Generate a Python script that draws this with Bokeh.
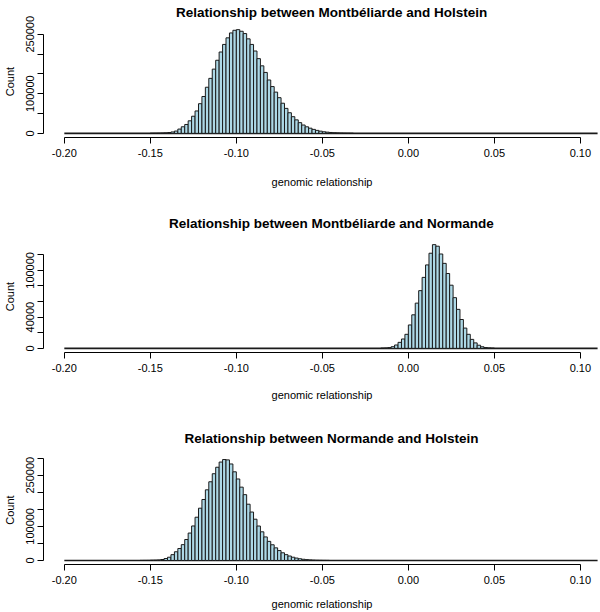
import numpy as np
from bokeh.plotting import figure
from bokeh.layouts import column
from bokeh.models import Range1d, FixedTicker, BasicTickFormatter, NumeralTickFormatter
from bokeh.embed import file_html
from bokeh.resources import INLINE

# ---------------- data ----------------
BIN_WIDTH = 0.002
BREAKS_RANGE = (-0.20, 0.11)          # full range of histogram breaks
X_LIMITS = (-0.2121, 0.1117)          # visible x range
X_TICKS = [-0.20, -0.15, -0.10, -0.05, 0.00, 0.05, 0.10]

titles = [
    "Relationship between Montbéliarde and Holstein",
    "Relationship between Montbéliarde and Normande",
    "Relationship between Normande and Holstein",
]
x_label = "genomic relationship"
y_label = "Count"

# Montbéliarde x Holstein: first bin starts at -0.150
mh_start = -0.150
mh_counts = [100, 200, 400, 700, 1200, 2000, 3500, 5800, 10800, 16600,
             22400, 31600, 43200, 56500, 74800, 93000, 116300, 138700, 162000, 184400,
             205200, 224300, 240900, 253300, 260000, 261600, 257500, 251700, 238400, 224300,
             207700, 188500, 170300, 153700, 134600, 118000, 104000, 90000, 76000, 63000,
             52000, 42000, 34000, 27000, 21000, 16500, 13000, 10000, 7500, 5500,
             4000, 3000, 2200, 1500, 1000, 600, 350, 200, 100]
mh_yticks = [0, 50000, 100000, 150000, 200000, 250000]
mh_ylabels = [0, 100000, 250000]

# Montbéliarde x Normande: first bin starts at -0.016
mn_start = -0.016
mn_counts = [200, 400, 900, 2100, 4300, 7700, 12000, 18000, 30000, 43000,
             58000, 74000, 91000, 107000, 122000, 133000, 131000, 121000, 109000, 96000,
             81000, 65000, 50000, 37000, 26000, 18000, 11500, 7000, 4000, 2000,
             1000, 500, 200]
mn_yticks = [0, 20000, 40000, 60000, 80000, 100000, 120000]
mn_ylabels = [0, 40000, 100000]

# Normande x Holstein: first bin starts at -0.156
nh_start = -0.156
nh_counts = [100, 200, 300, 800, 1000, 1500, 2800, 5700, 9500, 17000,
             25500, 35000, 46400, 61500, 80400, 101200, 126800, 153300, 178800, 207200,
             230800, 254400, 273400, 288600, 296000, 295000, 283000, 260000, 239000, 215000,
             193000, 165000, 142000, 121000, 101000, 84000, 69000, 56000, 46000, 37000,
             29000, 22500, 17000, 13000, 9500, 7000, 5000, 3500, 2500, 1600,
             1000, 600, 350, 200, 100]
nh_yticks = [0, 50000, 100000, 150000, 200000, 250000, 300000]
nh_ylabels = [0, 100000, 250000]

FONT = "Liberation Sans"
FILL = "#ADD8E6"
EDGE = "#1a1a1a"
FRAME_H = 112
BORDER_LEFT = 42


def make_panel(title, start, counts, yticks, ylabels, height, border_top,
               title_standoff, title_offset, xlabel_standoff):
    counts = np.asarray(counts, dtype=float)
    left = start + BIN_WIDTH * np.arange(len(counts))
    right = left + BIN_WIDTH
    ymax = counts.max()
    p = figure(width=600, height=height,
               x_range=Range1d(*X_LIMITS),
               y_range=Range1d(-0.04 * ymax, 1.04 * ymax),
               output_backend="svg", toolbar_location=None,
               min_border_left=BORDER_LEFT, min_border_right=0,
               min_border_top=border_top,
               min_border_bottom=height - border_top - FRAME_H,
               title=title)
    p.title.align = "left"
    p.title.offset = title_offset
    p.title.vertical_align = "top"
    p.title.standoff = title_standoff
    p.title.text_font = FONT
    p.title.text_font_size = "13.5px"
    p.title.text_font_style = "bold"
    p.title.text_color = "black"

    # zero-count bins drawn along the baseline
    p.segment(x0=[BREAKS_RANGE[0]], y0=[0], x1=[BREAKS_RANGE[1]], y1=[0],
              line_color=EDGE, line_width=1.6)
    p.quad(left=left, right=right, bottom=0, top=counts,
           fill_color=FILL, line_color=EDGE, line_width=1)

    p.xgrid.visible = False
    p.ygrid.visible = False
    p.outline_line_color = None
    p.background_fill_color = "white"
    p.border_fill_color = "white"

    for ax in (p.xaxis[0], p.yaxis[0]):
        ax.axis_line_color = "black"
        ax.axis_line_width = 1
        ax.major_tick_line_color = "black"
        ax.major_tick_out = 6
        ax.major_tick_in = 0
        ax.minor_tick_out = 0
        ax.minor_tick_in = 0
        ax.major_label_text_font = FONT
        ax.major_label_text_font_size = "11px"
        ax.major_label_text_color = "black"
        ax.axis_label_text_font = FONT
        ax.axis_label_text_font_size = "11px"
        ax.axis_label_text_font_style = "normal"
        ax.axis_label_text_color = "black"

    xa = p.xaxis[0]
    xa.ticker = FixedTicker(ticks=X_TICKS)
    xa.formatter = NumeralTickFormatter(format="0.00")
    xa.bounds = (X_TICKS[0], X_TICKS[-1])
    xa.axis_label = x_label
    xa.major_label_standoff = 5
    xa.axis_label_standoff = xlabel_standoff

    ya = p.yaxis[0]
    ya.ticker = FixedTicker(ticks=yticks)
    ya.formatter = BasicTickFormatter(use_scientific=False)
    ya.bounds = (yticks[0], yticks[-1])
    ya.major_label_overrides = {t: (str(t) if t in ylabels else "") for t in yticks}
    ya.major_label_orientation = "parallel"
    ya.axis_label = y_label
    ya.major_label_standoff = 3
    ya.axis_label_standoff = 8
    return p


p1 = make_panel(titles[0], mh_start, mh_counts, mh_yticks, mh_ylabels,
                206, 25, 6.5, 132.5, 16)
p2 = make_panel(titles[1], mn_start, mn_counts, mn_yticks, mn_ylabels,
                215, 34, 15.4, 125.5, 14)
p3 = make_panel(titles[2], nh_start, nh_counts, nh_yticks, nh_ylabels,
                191, 34, 15.4, 141, 11)

layout = column(p1, p2, p3, spacing=0)

open("out.html", "w").write(file_html(layout, INLINE))
